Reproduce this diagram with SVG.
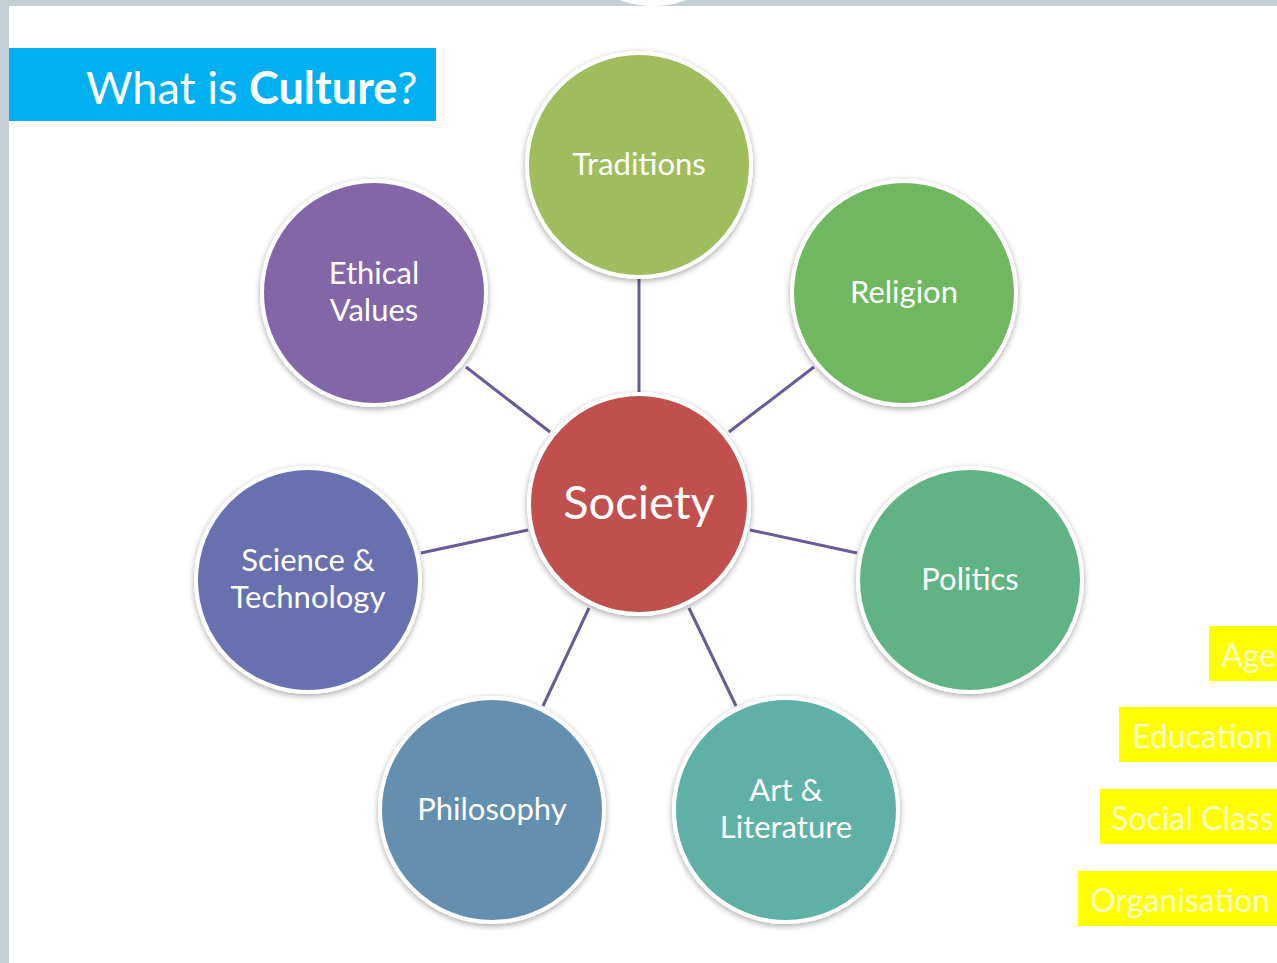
<svg xmlns="http://www.w3.org/2000/svg" width="1277" height="963" viewBox="0 0 1277 963">
  <defs>
    <filter id="soft" x="-20%" y="-20%" width="140%" height="140%">
      <feGaussianBlur in="SourceAlpha" stdDeviation="3"/>
      <feOffset dx="0" dy="2" result="b"/>
      <feComponentTransfer><feFuncA type="linear" slope="0.35"/></feComponentTransfer>
      <feMerge><feMergeNode/><feMergeNode in="SourceGraphic"/></feMerge>
    </filter>
  </defs>
  <style>
    .bubble { stroke: #ffffff; stroke-width: 4; filter: url(#soft); }
    .lbl { font-family: Lato, "Open Sans", "Liberation Sans", sans-serif; fill: #ffffff; text-anchor: middle; font-size: 31px; }
    .lbl.big { font-size: 47px; }
    .link { stroke: #6a5a96; stroke-width: 3; fill: none; }
    .tag rect { fill: #ffff00; }
    .tag text { font-family: Lato, "Open Sans", "Liberation Sans", sans-serif; font-size: 32px; fill: #ffffc8; }
  </style>

  <!-- page frame -->
  <rect x="0" y="0" width="1277" height="963" fill="#ffffff"/>
  <rect x="0" y="0" width="1277" height="6" fill="#c5d0d6"/>
  <rect x="0" y="0" width="9" height="963" fill="#c5d0d6"/>
  <ellipse cx="653" cy="-10" rx="42" ry="16" fill="#ffffff"/>

  <!-- heading -->
  <g id="title">
    <rect x="9" y="48" width="427" height="73" fill="#00b0f0"/>
    <text x="86" y="104" font-family="Lato, 'Open Sans', 'Liberation Sans', sans-serif" font-size="45" fill="#ffffff">What is <tspan font-weight="bold">Culture</tspan>?</text>
  </g>

  <!-- spokes -->
  <g id="connectors">
    <line class="link" x1="639" y1="278" x2="639" y2="392"/>
    <line class="link" x1="814" y1="367" x2="729" y2="432"/>
    <line class="link" x1="857" y1="553" x2="750" y2="530"/>
    <line class="link" x1="736" y1="706" x2="689" y2="608"/>
    <line class="link" x1="543" y1="706" x2="589" y2="608"/>
    <line class="link" x1="421" y1="553" x2="528" y2="530"/>
    <line class="link" x1="466" y1="367" x2="550" y2="432"/>
  </g>

  <g id="traditions">
    <circle class="bubble" cx="639" cy="165" r="112" fill="#9fbd5d"/>
    <text class="lbl" x="639" y="175">Traditions</text>
  </g>
  <g id="religion">
    <circle class="bubble" cx="904" cy="293" r="112" fill="#6fb85e"/>
    <text class="lbl" x="904" y="303">Religion</text>
  </g>
  <g id="politics">
    <circle class="bubble" cx="970" cy="580" r="112" fill="#61b483"/>
    <text class="lbl" x="970" y="590">Politics</text>
  </g>
  <g id="art-literature">
    <circle class="bubble" cx="786" cy="810" r="112" fill="#5fb0a5"/>
    <text class="lbl" x="786" y="801">Art &amp;</text>
    <text class="lbl" x="786" y="838">Literature</text>
  </g>
  <g id="philosophy">
    <circle class="bubble" cx="492" cy="810" r="112" fill="#658fae"/>
    <text class="lbl" x="492" y="820">Philosophy</text>
  </g>
  <g id="science-technology">
    <circle class="bubble" cx="308" cy="580" r="112" fill="#6771b0"/>
    <text class="lbl" x="308" y="571">Science &amp;</text>
    <text class="lbl" x="308" y="608">Technology</text>
  </g>
  <g id="ethical-values">
    <circle class="bubble" cx="374" cy="293" r="112" fill="#8266a8"/>
    <text class="lbl" x="374" y="284">Ethical</text>
    <text class="lbl" x="374" y="321">Values</text>
  </g>
  <g id="society">
    <circle class="bubble" cx="639" cy="504" r="110" fill="#c0504d"/>
    <text class="lbl big" x="639" y="519">Society</text>
  </g>

  <!-- side tags -->
  <g id="tag-age" class="tag">
    <rect x="1209" y="626" width="68" height="55"/>
    <text x="1221" y="667">Age</text>
  </g>
  <g id="tag-education" class="tag">
    <rect x="1119" y="707" width="158" height="55"/>
    <text x="1132" y="748">Education</text>
  </g>
  <g id="tag-social-class" class="tag">
    <rect x="1100" y="789" width="177" height="55"/>
    <text x="1111" y="830">Social Class</text>
  </g>
  <g id="tag-organisation" class="tag">
    <rect x="1078" y="871" width="199" height="55"/>
    <text x="1090" y="912">Organisation</text>
  </g>
</svg>
